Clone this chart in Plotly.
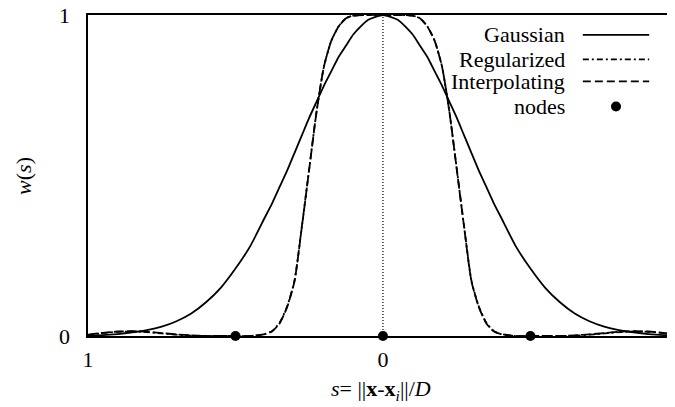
import plotly.graph_objects as go

# ---------------- data ----------------
s_vals = [-1.0, -0.95, -0.9, -0.85, -0.8, -0.75, -0.7, -0.65, -0.6, -0.55, -0.5,
          -0.45, -0.4, -0.375, -0.35, -0.325, -0.3, -0.275, -0.25, -0.225, -0.2,
          -0.175, -0.15, -0.125, -0.1, -0.05, 0.0,
          0.05, 0.1, 0.125, 0.15, 0.175, 0.2, 0.225, 0.25, 0.275, 0.3, 0.325,
          0.35, 0.375, 0.4, 0.45, 0.5, 0.55, 0.6, 0.65, 0.7, 0.75, 0.8, 0.85,
          0.9, 0.95, 1.0]

gaussian = [0.002, 0.003, 0.006, 0.011, 0.018, 0.029, 0.046, 0.07, 0.105, 0.15, 0.21,
            0.28, 0.37, 0.415, 0.465, 0.515, 0.57, 0.625, 0.68, 0.73, 0.78,
            0.825, 0.87, 0.905, 0.94, 0.985, 1.0,
            0.985, 0.94, 0.905, 0.87, 0.825, 0.78, 0.73, 0.68, 0.625, 0.57, 0.515,
            0.465, 0.415, 0.37, 0.28, 0.21, 0.15, 0.105, 0.07, 0.046, 0.029, 0.018, 0.011,
            0.006, 0.003, 0.002]

regularized = [0.003, 0.009, 0.013, 0.014, 0.012, 0.008, 0.004, 0.001, 0.0, 0.0, 0.0,
               0.0, 0.006, 0.016, 0.042, 0.092, 0.172, 0.342, 0.522, 0.70, 0.84,
               0.92, 0.965, 0.99, 0.998, 1.0, 1.0,
               1.0, 0.998, 0.99, 0.965, 0.92, 0.84, 0.70, 0.522, 0.342, 0.172, 0.092,
               0.042, 0.016, 0.006, 0.0, 0.0, 0.0, 0.0, 0.001, 0.004, 0.008, 0.012, 0.014,
               0.013, 0.009, 0.003]

interpolating = [0.004, 0.01, 0.014, 0.015, 0.013, 0.009, 0.005, 0.002, 0.0, 0.0, 0.0,
                 0.0, 0.006, 0.015, 0.04, 0.09, 0.17, 0.34, 0.52, 0.70, 0.84,
                 0.92, 0.965, 0.99, 0.998, 1.0, 1.0,
                 1.0, 0.998, 0.99, 0.965, 0.92, 0.84, 0.70, 0.52, 0.34, 0.17, 0.09,
                 0.04, 0.015, 0.006, 0.0, 0.0, 0.0, 0.0, 0.002, 0.005, 0.009, 0.013, 0.015,
                 0.014, 0.01, 0.004]

node_s = [-0.5, 0.0, 0.5]
node_w = [0.0, 0.0, 0.0]

center_line_s = [0.0, 0.0]
center_line_w = [0.0, 1.0]

x_tick_vals = [-1, 0, 1]
x_tick_text = ["1", "0", "1"]
y_tick_vals = [0, 1]
y_tick_text = ["0", "1"]

legend_names = ["Gaussian", "Regularized", "Interpolating", "nodes"]

# ---------------- styling ----------------
FONT = "Liberation Serif, Times New Roman, Times, serif"
FS = 22
X_RANGE = [-1.0, 0.99]
Y_RANGE = [0, 1]

fig = go.Figure()

fig.add_trace(go.Scatter(x=center_line_s, y=center_line_w, mode="lines",
                         line=dict(color="black", width=1.2, dash="1px,2px"),
                         showlegend=False, hoverinfo="skip"))
fig.add_trace(go.Scatter(x=s_vals, y=gaussian, mode="lines", name=legend_names[0],
                         line=dict(color="black", width=1.8, shape="spline", smoothing=0.6),
                         showlegend=False))
fig.add_trace(go.Scatter(x=s_vals, y=regularized, mode="lines", name=legend_names[1],
                         line=dict(color="black", width=1.8, shape="spline", smoothing=0.6,
                                   dash="6px,3px,2px,3px"),
                         showlegend=False))
fig.add_trace(go.Scatter(x=s_vals, y=interpolating, mode="lines", name=legend_names[2],
                         line=dict(color="black", width=1.8, shape="spline", smoothing=0.6,
                                   dash="10px,3px"),
                         showlegend=False))
fig.add_trace(go.Scatter(x=node_s, y=node_w, mode="markers", name=legend_names[3],
                         marker=dict(color="black", size=10), cliponaxis=False,
                         showlegend=False))

# ---------------- custom legend (text left, sample right) ----------------
leg_text_x = 0.816
leg_x0, leg_x1 = 0.843, 0.956
leg_rows_y = [0.938, 0.862, 0.793, 0.715]
dashes = ["solid", "6px,3px,2px,3px", "8px,4px"]
annotations = []
shapes = []
for i, name in enumerate(legend_names):
    annotations.append(dict(x=leg_text_x, y=leg_rows_y[i], xref="paper", yref="paper",
                            text=name, showarrow=False, xanchor="right", yanchor="middle",
                            font=dict(family=FONT, size=FS, color="black")))
    if i < 3:
        shapes.append(dict(type="line", xref="paper", yref="paper",
                           x0=leg_x0, x1=leg_x1, y0=leg_rows_y[i], y1=leg_rows_y[i],
                           line=dict(color="black", width=1.8, dash=dashes[i])))
    else:
        xm = (leg_x0 + leg_x1) / 2
        shapes.append(dict(type="circle", xref="paper", yref="paper",
                           xsizemode="pixel", ysizemode="pixel",
                           xanchor=xm, yanchor=leg_rows_y[i],
                           x0=-5, x1=5, y0=-5, y1=5,
                           fillcolor="black", line=dict(color="black", width=0)))

# y tick labels drawn as annotations (the top one sits at the very top of the page)
for v, t in zip(y_tick_vals, y_tick_text):
    annotations.append(dict(x=-0.027, y=(v - Y_RANGE[0]) / (Y_RANGE[1] - Y_RANGE[0]),
                            xref="paper", yref="paper", text=t, showarrow=False,
                            xanchor="right", yanchor="middle",
                            font=dict(family=FONT, size=FS, color="black")))

# cut-off right tick label (lies just past the visible range)
right_tick_paper = (x_tick_vals[2] - X_RANGE[0]) / (X_RANGE[1] - X_RANGE[0])
annotations.append(dict(x=right_tick_paper, y=-0.078, xref="paper", yref="paper",
                        text=x_tick_text[2], showarrow=False, xanchor="center",
                        yanchor="middle", font=dict(family=FONT, size=FS, color="black")))

# axis titles
annotations.append(dict(x=0.499, y=-0.168, xref="paper", yref="paper",
                        text="<i>s</i>= ||<b>x</b>-<b>x</b><sub><i>i</i></sub>||/<i>D</i>",
                        showarrow=False, xanchor="center", yanchor="middle",
                        font=dict(family=FONT, size=FS, color="black")))
annotations.append(dict(x=-0.11, y=0.50, xref="paper", yref="paper",
                        text="<i>w</i>(<i>s</i>)", textangle=-90,
                        showarrow=False, xanchor="center", yanchor="middle",
                        font=dict(family=FONT, size=FS, color="black")))

# page body has an 8px margin: shrink the figure so the plot area lands where the reference has it
fig.update_layout(
    width=667, height=399,
    margin=dict(l=80, r=0, t=7, b=71),
    paper_bgcolor="white", plot_bgcolor="white",
    font=dict(family=FONT, size=FS, color="black"),
    showlegend=False,
    annotations=annotations,
    shapes=shapes,
    xaxis=dict(range=X_RANGE, tickvals=x_tick_vals[:2], ticktext=x_tick_text[:2],
               showgrid=False, zeroline=False, showline=True, linecolor="black",
               linewidth=2, mirror=True, ticks="", ticklabelstandoff=3),
    yaxis=dict(range=Y_RANGE, showticklabels=False,
               showgrid=False, zeroline=False, showline=True, linecolor="black",
               linewidth=2, mirror=False, ticks=""),
)

fig.write_html("out.html")
